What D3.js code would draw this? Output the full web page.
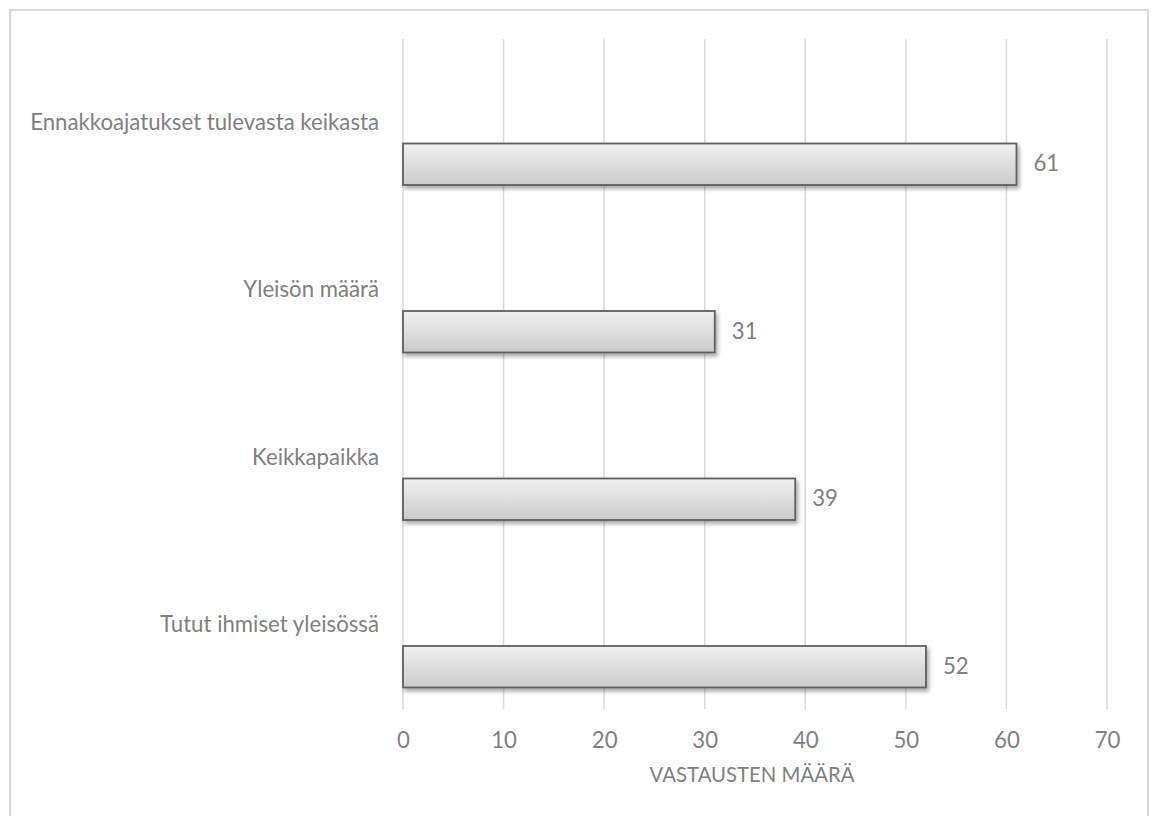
<!DOCTYPE html>
<html>
<head>
<meta charset="utf-8">
<script src="https://cdn.jsdelivr.net/npm/d3@7"></script>
<style>
  html, body { margin: 0; padding: 0; background: #fff; }
  svg { display: block; }
  text { font-family: Lato, "Open Sans", sans-serif; fill: #808080; }
</style>
</head>
<body>
<svg id="chart" width="1152" height="816"></svg>
<script>
// Response counts per factor
const categories = [
  "Ennakkoajatukset tulevasta keikasta",
  "Yleisön määrä",
  "Keikkapaikka",
  "Tutut ihmiset yleisössä"
];
const values = [61, 31, 39, 52];
const tickValues = [0, 10, 20, 30, 40, 50, 60, 70];
const axisTitle = "VASTAUSTEN MÄÄRÄ";

const svg = d3.select("#chart");
const plot = { left: 403, right: 1107, top: 39, bottom: 709 };

// Fit the label font so the longest category label spans 349px
const probe = svg.append("text").attr("font-size", 20).text(categories[0]);
const labelSize = 20 * 349 / probe.node().getComputedTextLength();
probe.remove();
// Axis title fitted to 205px
const probe2 = svg.append("text").attr("font-size", 20).text(axisTitle);
const titleSize = 20 * 205 / probe2.node().getComputedTextLength();
probe2.remove();

const x = d3.scaleLinear().domain([0, 70]).range([plot.left, plot.right]);
const y = d3.scaleBand().domain(categories).range([plot.top, plot.bottom]).padding(0);
const barHeight = 41.5;
const barOffset = 20.75; // bar starts this far below the band centre

const defs = svg.append("defs");
const grad = defs.append("linearGradient").attr("id", "barFill")
  .attr("x1", 0).attr("y1", 0).attr("x2", 0).attr("y2", 1);
grad.append("stop").attr("offset", "0%").attr("stop-color", "#f0f0f0");
grad.append("stop").attr("offset", "100%").attr("stop-color", "#cbcbcb");
const shadow = defs.append("filter").attr("id", "shadow")
  .attr("x", "-5%").attr("y", "-30%").attr("width", "110%").attr("height", "180%");
shadow.append("feDropShadow").attr("dx", 2).attr("dy", 3).attr("stdDeviation", 2)
  .attr("flood-color", "#000").attr("flood-opacity", 0.35);

// Outer chart border
svg.append("rect")
  .attr("x", 10).attr("y", 10).attr("width", 1138).attr("height", 820)
  .attr("fill", "none").attr("stroke", "#d9d9d9").attr("stroke-width", 2);

// Vertical gridlines
svg.append("g").selectAll("line").data(tickValues).join("line")
  .attr("x1", d => x(d)).attr("x2", d => x(d))
  .attr("y1", plot.top).attr("y2", plot.bottom)
  .attr("stroke", "#d9d9d9").attr("stroke-width", 1.5);

// Tick labels
const xAxis = svg.append("g").attr("transform", `translate(0,${plot.bottom})`)
  .call(d3.axisBottom(x).tickValues(tickValues).tickSize(0).tickPadding(0));
xAxis.select(".domain").remove();
xAxis.selectAll("text")
  .attr("dy", null).attr("y", 39)
  .attr("font-size", labelSize).attr("fill", "#808080")
  .style("font-family", "Lato, 'Open Sans', sans-serif");

// Axis title
svg.append("text")
  .attr("x", 752).attr("y", 782)
  .attr("text-anchor", "middle").attr("font-size", titleSize)
  .text(axisTitle);

// Category labels at band centres
svg.append("g").selectAll("text").data(categories).join("text")
  .attr("x", 379)
  .attr("y", d => y(d) + y.bandwidth() / 2 + 7)
  .attr("text-anchor", "end").attr("font-size", labelSize)
  .text(d => d);

// Bars
const rows = categories.map((c, i) => ({ c, v: values[i] }));
svg.append("g").selectAll("rect").data(rows).join("rect")
  .attr("x", x(0))
  .attr("y", d => y(d.c) + y.bandwidth() / 2 + barOffset)
  .attr("width", d => x(d.v) - x(0))
  .attr("height", barHeight)
  .attr("fill", "url(#barFill)")
  .attr("stroke", "#5f5f5f").attr("stroke-width", 1.8)
  .attr("filter", "url(#shadow)");

// Value labels
svg.append("g").selectAll("text").data(rows).join("text")
  .attr("x", d => x(d.v) + 17)
  .attr("y", d => y(d.c) + y.bandwidth() / 2 + barOffset + barHeight / 2 + 7)
  .attr("font-size", labelSize)
  .text(d => d.v);
</script>
</body>
</html>
